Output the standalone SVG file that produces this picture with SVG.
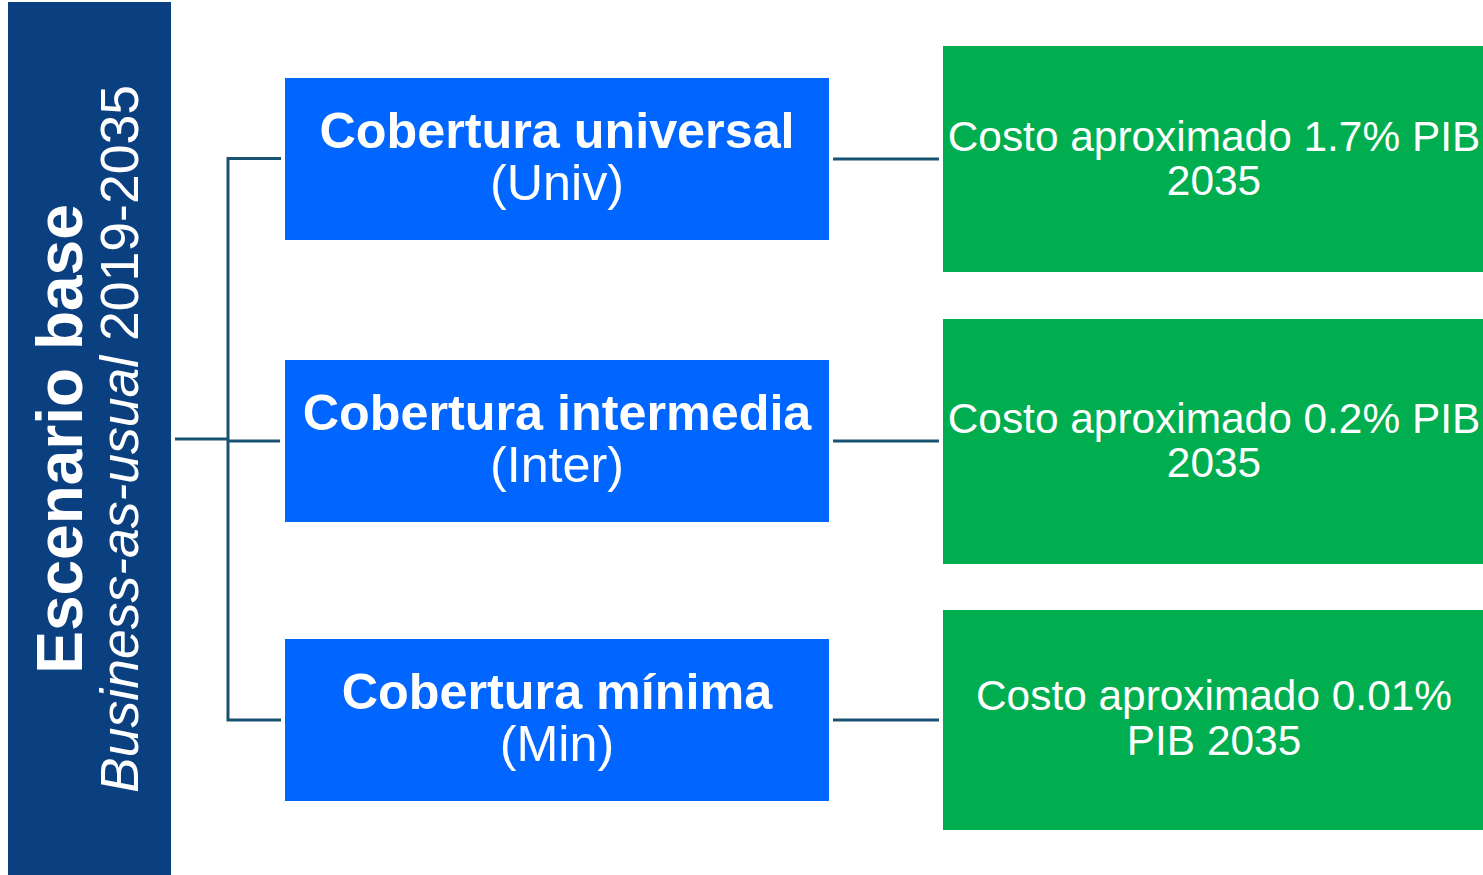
<svg xmlns="http://www.w3.org/2000/svg" width="1483" height="875" viewBox="0 0 1483 875">
<style>
.t{font-family:"Liberation Sans",Arial,sans-serif;fill:#fff;text-anchor:middle}
.b{font-weight:bold}
.blue{fill:#0066ff}
.green{fill:#00ae4f}
.ln{stroke:#1a5272;stroke-width:3;fill:none}
</style>
<rect width="1483" height="875" fill="#fff"/>
<g id="panel">
<rect x="8" y="2" width="163" height="873" fill="#0a3f80"/>
<text class="t b" transform="translate(82,439) rotate(-90)" font-size="64">Escenario base</text>
<text class="t" transform="translate(138,439) rotate(-90)" font-size="53.5"><tspan font-style="italic">Business-as-usual</tspan> 2019-2035</text>
</g>
<g id="connectors">
<path class="ln" d="M175,439 H228 M281,158.5 H228 V720 H281 M228,441 H280"/>
<path class="ln" d="M833,159 H939 M833,441 H939 M833,720 H939"/>
</g>
<g id="univ">
<rect class="blue" x="285" y="78" width="544" height="162"/>
<text class="t b" x="557" y="148" font-size="50.3">Cobertura universal</text>
<text class="t" x="557" y="200" font-size="50.3">(Univ)</text>
</g>
<g id="inter">
<rect class="blue" x="285" y="360" width="544" height="162"/>
<text class="t b" x="557" y="430" font-size="50.3">Cobertura intermedia</text>
<text class="t" x="557" y="482" font-size="50.3">(Inter)</text>
</g>
<g id="min">
<rect class="blue" x="285" y="639" width="544" height="162"/>
<text class="t b" x="557" y="709" font-size="50.3">Cobertura mínima</text>
<text class="t" x="557" y="761" font-size="50.3">(Min)</text>
</g>
<g id="costo-univ">
<rect class="green" x="943" y="46" width="540" height="226"/>
<text class="t" x="1214" y="151" font-size="42.4">Costo aproximado 1.7% PIB</text>
<text class="t" x="1214" y="195" font-size="42.4">2035</text>
</g>
<g id="costo-inter">
<rect class="green" x="943" y="319" width="540" height="245"/>
<text class="t" x="1214" y="433" font-size="42.4">Costo aproximado 0.2% PIB</text>
<text class="t" x="1214" y="477" font-size="42.4">2035</text>
</g>
<g id="costo-min">
<rect class="green" x="943" y="610" width="540" height="220"/>
<text class="t" x="1214" y="710" font-size="42.4">Costo aproximado 0.01%</text>
<text class="t" x="1214" y="755" font-size="42.4">PIB 2035</text>
</g>
</svg>
